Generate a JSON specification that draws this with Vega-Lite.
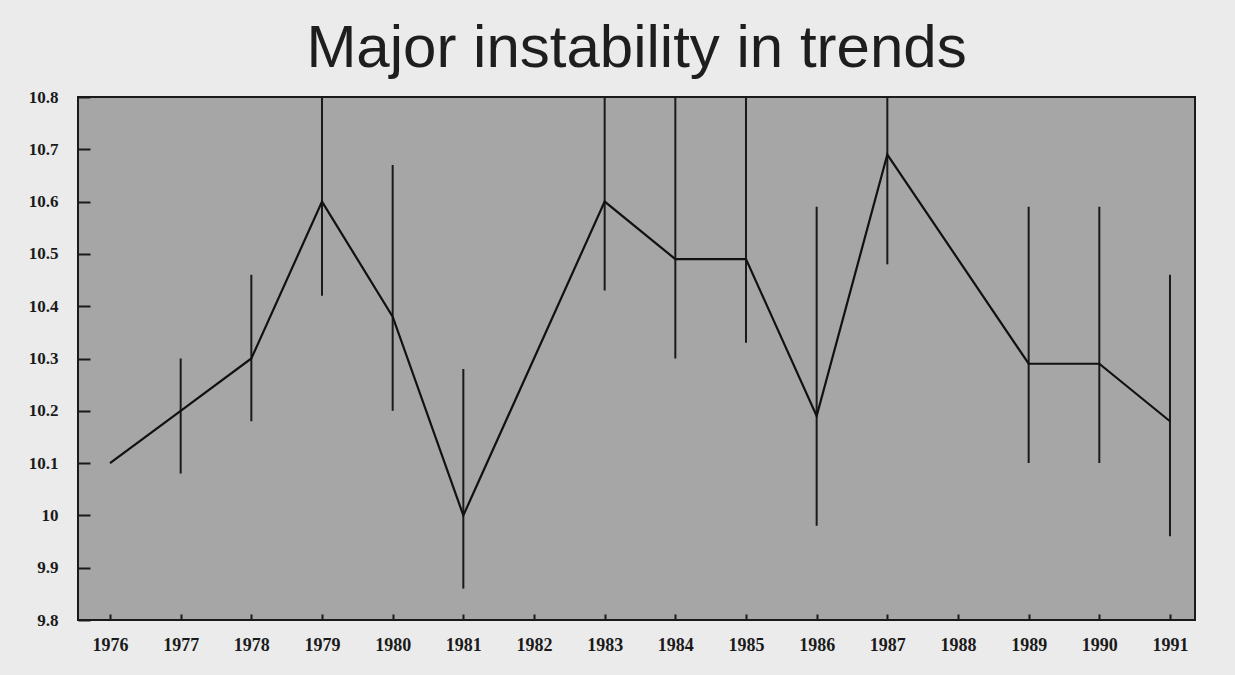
{
  "$schema": "https://vega.github.io/schema/vega-lite/v6.json",
  "autosize": "none",
  "width": 1117,
  "height": 523,
  "padding": {"left": 78, "top": 97, "right": 40, "bottom": 55},
  "background": "#ebebeb",
  "title": {
    "text": "Major instability in trends",
    "font": "Liberation Sans",
    "fontSize": 60,
    "fontWeight": "normal",
    "color": "#1e1e1e",
    "anchor": "middle",
    "offset": 8
  },
  "config": {
    "view": {"fill": "#a6a6a6", "stroke": "#1a1a1a", "strokeWidth": 2},
    "axis": {
      "grid": false,
      "domain": false,
      "labelFont": "Liberation Serif",
      "labelFontWeight": "bold",
      "labelColor": "#1a1a1a",
      "tickColor": "#1a1a1a",
      "tickWidth": 2
    }
  },
  "data": {
    "values": [
      {"year": 1976, "value": 10.1, "lo": null, "hi": null},
      {"year": 1977, "value": 10.2, "lo": 10.08, "hi": 10.3},
      {"year": 1978, "value": 10.3, "lo": 10.18, "hi": 10.46},
      {"year": 1979, "value": 10.6, "lo": 10.42, "hi": 10.85},
      {"year": 1980, "value": 10.38, "lo": 10.2, "hi": 10.67},
      {"year": 1981, "value": 10.0, "lo": 9.86, "hi": 10.28},
      {"year": 1983, "value": 10.6, "lo": 10.43, "hi": 10.85},
      {"year": 1984, "value": 10.49, "lo": 10.3, "hi": 10.85},
      {"year": 1985, "value": 10.49, "lo": 10.33, "hi": 10.85},
      {"year": 1986, "value": 10.19, "lo": 9.98, "hi": 10.59},
      {"year": 1987, "value": 10.69, "lo": 10.48, "hi": 10.85},
      {"year": 1989, "value": 10.29, "lo": 10.1, "hi": 10.59},
      {"year": 1990, "value": 10.29, "lo": 10.1, "hi": 10.59},
      {"year": 1991, "value": 10.18, "lo": 9.96, "hi": 10.46}
    ]
  },
  "encoding": {
    "x": {
      "field": "year",
      "type": "quantitative",
      "scale": {"domain": [1975.547, 1991.354], "nice": false, "zero": false},
      "axis": {
        "title": null,
        "values": [1976, 1977, 1978, 1979, 1980, 1981, 1982, 1983, 1984, 1985, 1986, 1987, 1988, 1989, 1990, 1991],
        "format": "d",
        "labelFontSize": 18,
        "tickSize": -6,
        "labelPadding": 22
      }
    }
  },
  "layer": [
    {
      "mark": {"type": "rule", "color": "#1a1a1a", "strokeWidth": 2, "clip": true},
      "encoding": {
        "y": {
          "field": "lo",
          "type": "quantitative",
          "scale": {"domain": [9.8, 10.8], "nice": false, "zero": false},
          "axis": {
            "title": null,
            "values": [9.8, 9.9, 10, 10.1, 10.2, 10.3, 10.4, 10.5, 10.6, 10.7, 10.8],
            "format": "~g",
            "labelFontSize": 17,
            "tickSize": -12,
            "labelPadding": 32
          }
        },
        "y2": {"field": "hi"}
      }
    },
    {
      "mark": {"type": "line", "color": "#111111", "strokeWidth": 2.2},
      "encoding": {
        "y": {"field": "value", "type": "quantitative"}
      }
    }
  ]
}
